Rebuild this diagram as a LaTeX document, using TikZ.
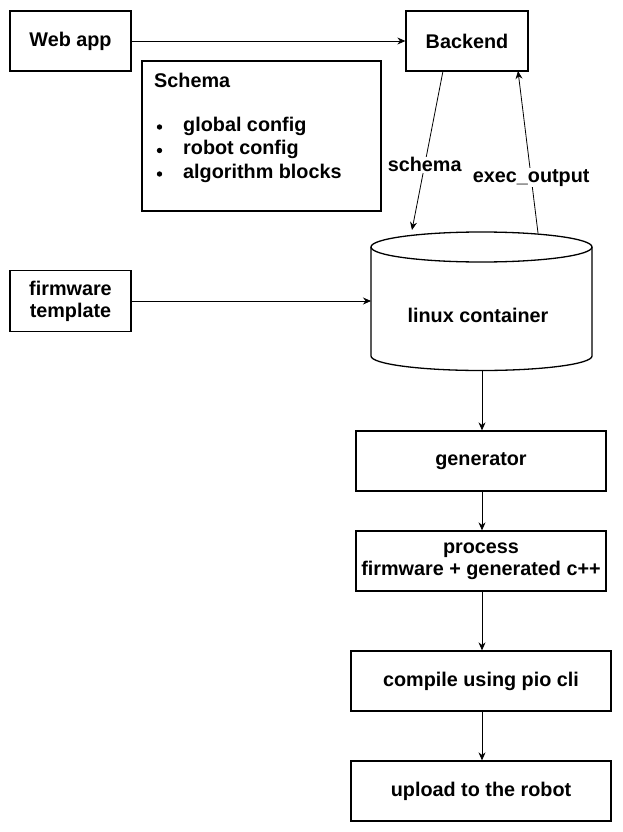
\documentclass[tikz,border=0pt]{standalone}
\usepackage{fontspec}
\setmainfont{Liberation Sans}
\usetikzlibrary{arrows.meta}
\begin{document}
\begin{tikzpicture}[x=1pt,y=-1pt,
  txt/.style={font=\bfseries\fontsize{19.8}{22}\selectfont},
  box/.style={draw, line width=1.3pt, inner sep=0pt, txt, align=center},
  arr/.style={-{Stealth[length=8pt,width=7pt]}, line width=0.8pt},
  lbl/.style={fill=white, inner sep=1pt, txt}]
\useasboundingbox (0,0) rectangle (622,832);
% boxes
\node[box, minimum width=121pt, minimum height=60pt] (web) at (70.5,41) {Web app};
\node[box, minimum width=122pt, minimum height=60pt] (back) at (467,41) {Backend};
\node[box, minimum width=121pt, minimum height=61pt] (fw) at (70.5,301) {firmware\\template};
\node[box, minimum width=250pt, minimum height=60pt] (gen) at (481,461) {generator};
\node[box, minimum width=250pt, minimum height=60pt] (proc) at (481,561) {process\\firmware + generated c++};
\node[box, minimum width=260pt, minimum height=60pt] (comp) at (481,681) {compile using pio cli};
\node[box, minimum width=260pt, minimum height=60pt] (up) at (481,791) {upload to the robot};
% schema box
\node[box, minimum width=239pt, minimum height=150pt] (sch) at (261.5,136) {};
\node[anchor=west, txt, inner sep=0pt] (schT) at (154,80) {Schema};
\foreach \t/\yy [count=\i] in {global config/126, robot config/149.5, algorithm blocks/173}{
  \fill (159.5,\yy+1) circle (2.7pt);
  \node[anchor=west, txt, inner sep=0pt] (b\i) at (183,\yy) {\t};
}
% cylinder
\draw[line width=1.3pt, fill=white] (371,247) -- (371,356) arc[start angle=180, end angle=360, x radius=110.5pt, y radius=14.5pt] -- (592,247) arc[start angle=0, end angle=180, x radius=110.5pt, y radius=15pt] -- cycle;
\draw[line width=1.3pt] (371,247) arc[start angle=180, end angle=360, x radius=110.5pt, y radius=15pt];
\node[txt, minimum width=221pt, minimum height=124pt] (lc) at (478,315) {linux container};
\coordinate (lcL) at (371,301);
\coordinate (lcTin) at (412,230);
\coordinate (lcTout) at (538,233);
\coordinate (lcB) at (482,370.5);
% connectors
\draw[arr] (web.east) -- (back.west);
\draw[arr] (fw.east) -- (lcL);
\draw[arr] (443,71) -- node[lbl, pos=0.59] {schema} (lcTin);
\draw[arr] (lcTout) -- node[lbl, pos=0.34] {exec\_output} (518,71);
\draw[arr] (lcB) -- (gen.north -| lcB);
\draw[arr] (gen.south -| lcB) -- (proc.north -| lcB);
\draw[arr] (proc.south -| lcB) -- (comp.north -| lcB);
\draw[arr] (comp.south -| lcB) -- (up.north -| lcB);
\end{tikzpicture}
\end{document}
